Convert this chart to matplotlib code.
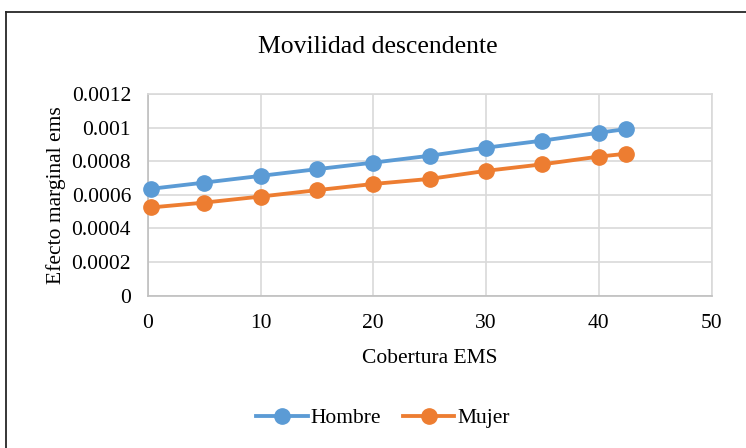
import matplotlib.pyplot as plt
from matplotlib.lines import Line2D

plt.rcParams['font.family'] = ['Liberation Serif', 'DejaVu Serif']

# datos
cobertura = [0.27, 5, 10, 15, 20, 25, 30, 35, 40, 42.44]
hombre = [0.000636, 0.000673, 0.000713, 0.000753, 0.000792,
          0.000833, 0.000881, 0.000923, 0.000970, 0.000992]
mujer = [0.000525, 0.000554, 0.000590, 0.000628, 0.000665,
         0.000695, 0.000743, 0.000782, 0.000828, 0.000845]
yticks = [0, 0.0002, 0.0004, 0.0006, 0.0008, 0.001, 0.0012]
ylabels = ['0', '0.0002', '0.0004', '0.0006', '0.0008', '0.001', '0.0012']

AZUL = '#5B9BD5'
NARANJA = '#ED7D31'
GRIS = '#D9D9D9'
W, H = 746, 448

fig = plt.figure(figsize=(7.46, 4.48), dpi=100)
# marco recortado: solo borde superior e izquierdo visibles
fig.lines.append(Line2D([5.5 / W, 1.0], [1 - 12.5 / H, 1 - 12.5 / H],
                        transform=fig.transFigure, color='#262626', linewidth=1.3))
fig.lines.append(Line2D([5.5 / W, 5.5 / W], [0, 1 - 12.5 / H],
                        transform=fig.transFigure, color='#262626', linewidth=1.3))

ax = fig.add_axes([0.198, 0.340, 0.756, 0.450])
ax.plot(cobertura, hombre, '-o', color=AZUL, linewidth=2.75, markersize=11,
        label='Hombre', clip_on=False, zorder=3)
ax.plot(cobertura, mujer, '-o', color=NARANJA, linewidth=2.75, markersize=11,
        label='Mujer', clip_on=False, zorder=3)

ax.set_xlim(0, 50)
ax.set_ylim(0, 0.0012)
ax.set_xticks([0, 10, 20, 30, 40, 50])
ax.set_yticks(yticks)
ax.set_yticklabels(ylabels)
ax.grid(True, color=GRIS, linewidth=1.2)
ax.set_axisbelow(True)
for s in ax.spines.values():
    s.set_color(GRIS)
    s.set_linewidth(1.2)
ax.spines['left'].set_color('#BFBFBF')
ax.spines['bottom'].set_color('#BFBFBF')
ax.tick_params(axis='x', length=0, labelsize=15.5, pad=13, colors='black')
ax.tick_params(axis='y', length=0, labelsize=15.5, pad=12, colors='black')

fig.text(0.507, 1 - 47 / H, 'Movilidad descendente', fontsize=18.5,
         ha='center', va='center')
ax.set_xlabel('Cobertura EMS', fontsize=15.5, labelpad=12)
ax.set_ylabel('Efecto marginal ems', fontsize=15.5, labelpad=4)

fig.legend(loc='center', bbox_to_anchor=(383 / W, 1 - 418 / H), ncol=2,
           frameon=False, fontsize=15.5, handlelength=2.4, columnspacing=1.0,
           handletextpad=0.15)

fig.savefig('out.png', dpi=100)
